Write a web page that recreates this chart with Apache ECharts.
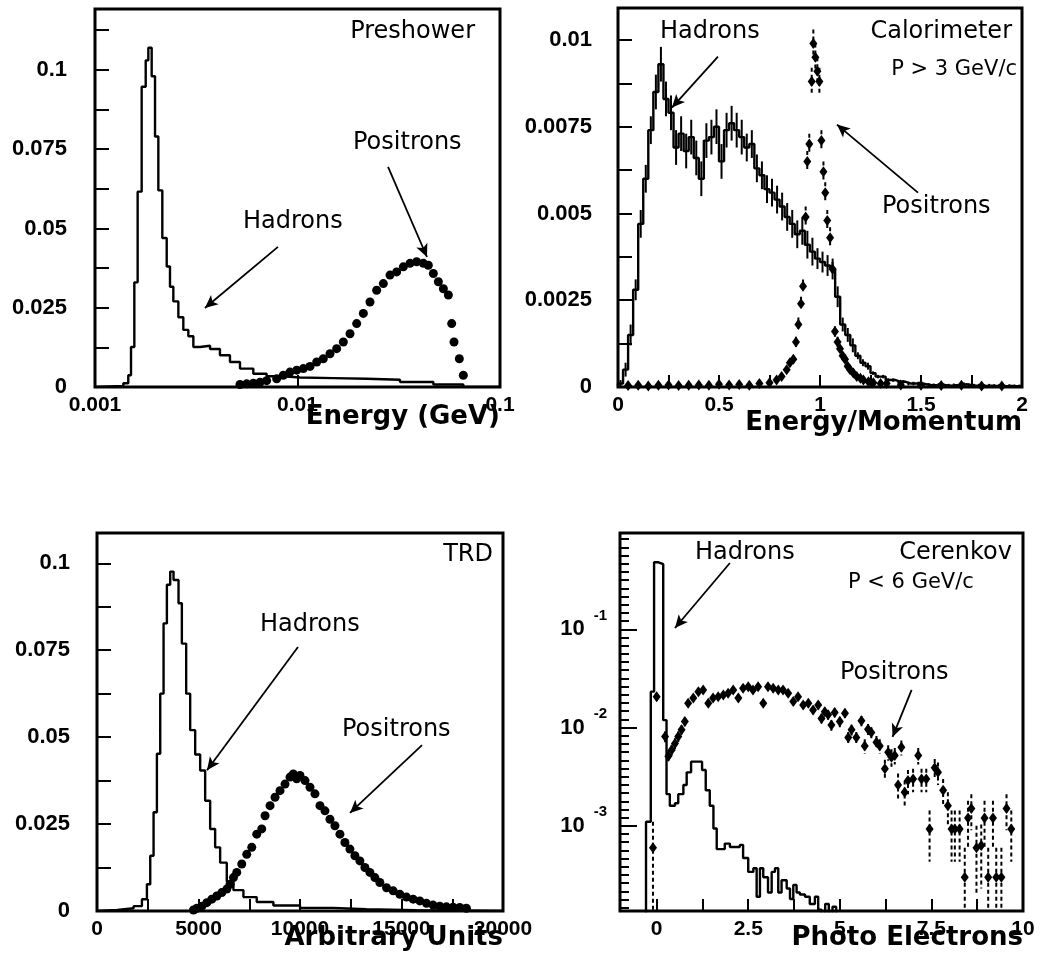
<!DOCTYPE html>
<html>
<head>
<meta charset="utf-8">
<script src="https://cdn.jsdelivr.net/npm/echarts@6/dist/echarts.min.js"></script>
<style>html,body{margin:0;padding:0;background:#fff}#c{width:1049px;height:968px}</style>
</head>
<body>
<div id="c"></div>
<script>
// ================= DATA =================
// Panel 1 : Preshower (log x)
const preHadEdges = [0.001,0.00138,0.00146,0.001506,0.001564,0.001624,0.0017,0.00178,0.001834,0.001905,0.001979,0.002055,0.00215,0.00226,0.002346,0.002437,0.00258,0.00273,0.00289,0.00306,0.0033,0.0037,0.00414,0.00464,0.0052,0.00605,0.00704,0.00851,0.01029,0.01503,0.02196,0.03208,0.04687,0.0659,0.1];
const preHadVals = [0.0003,0.0012,0.0037,0.0126,0.033,0.0616,0.0947,0.103,0.107,0.098,0.079,0.062,0.047,0.038,0.0316,0.027,0.022,0.018,0.016,0.0126,0.013,0.012,0.010,0.0079,0.0058,0.0042,0.0034,0.003,0.0028,0.0026,0.0023,0.0016,0.0008,0];
const prePosX = [0.0052,0.00561,0.00605,0.00653,0.00704,0.00789,0.00851,0.00918,0.00991,0.01069,0.01153,0.01244,0.01341,0.01447,0.01561,0.01684,0.01817,0.0196,0.02114,0.0228,0.0246,0.02654,0.02863,0.03089,0.03332,0.03594,0.03877,0.04183,0.04426,0.04687,0.04962,0.05252,0.0556,0.05773,0.05928,0.06298,0.0659];
const prePosY = [0.0008,0.001,0.0012,0.0015,0.002,0.0026,0.0037,0.0047,0.0053,0.0058,0.0065,0.0079,0.0089,0.0105,0.0121,0.0142,0.0168,0.02,0.0232,0.0268,0.0305,0.0326,0.0353,0.0363,0.0379,0.039,0.0395,0.039,0.0384,0.0358,0.0332,0.031,0.029,0.02,0.0142,0.0089,0.0037];
const preXLabelVals = [0.001,0.01,0.1];
const preXLabels = ['0.001','0.01','0.1'];
const preYLabelVals = [0,0.025,0.05,0.075,0.1];
const preYLabels = ['0','0.025','0.05','0.075','0.1'];
const preYTickVals = [0,0.0125,0.025,0.0375,0.05,0.0625,0.075,0.0875,0.1,0.1125];

// Panel 2 : Calorimeter
const calBinStart = 0, calBinWidth = 0.025;
const calHadVals = [
0.0001,0.0005,0.0015,0.0028,0.0047,0.0060,0.0074,0.0085,0.0093,0.0083,
0.0079,0.0069,0.0073,0.0068,0.0072,0.0066,0.0060,0.0071,0.0072,0.0075,
0.0065,0.0074,0.0076,0.0074,0.0072,0.0069,0.0070,0.0063,0.0061,0.0057,
0.0056,0.0054,0.0052,0.0049,0.0047,0.0044,0.0045,0.0041,0.0039,0.0037,
0.0036,0.0035,0.0034,0.0026,0.0018,0.0015,0.0012,0.0009,0.0007,0.0006,
0.0004,0.0003,0.0003,0.0002,0.0002,0.00015,0.00015,0.0001,0.0001,0.0001,
0.00008,0.00006,0.00005,0.00006,0.00005,0.00004,0.00005,0.00004,0.00008,0.00005,
0.00004,0.00004,0.00003,0.00004,0.00003,0.00003,0.00002,0.00003,0.00002,0.00002];
const calHadErr = [
0.0001,0.0002,0.0003,0.0003,0.0004,0.0004,0.0004,0.0005,0.0005,0.0005,
0.0005,0.0005,0.0005,0.0005,0.0005,0.0005,0.0005,0.0005,0.0005,0.0005,
0.0005,0.0005,0.0005,0.0005,0.0005,0.0004,0.0004,0.0004,0.0004,0.0004,
0.0004,0.0004,0.0004,0.0004,0.0004,0.0004,0.0004,0.0004,0.0004,0.0003,
0.0003,0.0003,0.0003,0.0003,0.0002,0.0002,0.0002,0.0001,0.0001,0.0001,
0.00005,0.00005,0.00005,0.00005,0.00005,0.00005,0.00005,0.00005,0.00005,0.00005,
0.00005,0.00005,0.00005,0.00005,0.00005,0.00005,0.00005,0.00005,0.00005,0.00005,
0.00005,0.00005,0.00005,0.00005,0.00005,0.00005,0.00005,0.00005,0.00005,0.00005];
const calPosX = [0.05,0.1,0.15,0.2,0.25,0.3,0.35,0.4,0.45,0.5,0.55,0.6,0.65,0.7,0.75,
0.785,0.81,0.835,0.851,0.868,0.881,0.893,0.906,0.916,0.929,
0.937,0.947,0.959,0.967,0.977,0.987,0.997,1.007,1.017,1.026,
1.036,1.05,1.062,1.074,1.087,1.099,1.112,1.124,1.137,1.149,
1.165,1.182,1.2,1.215,1.24,1.264,1.3,1.33,
1.4,1.5,1.6,1.7,1.8,1.9];
const calPosY = [0.00004,0.00005,0.00003,0.00005,0.00006,0.00004,0.00005,0.00006,0.00005,0.00008,0.00006,0.00007,0.00005,0.0001,0.00012,
0.0002,0.0003,0.0005,0.0007,0.0008,0.0013,0.0018,0.0024,0.0029,0.0049,
0.0065,0.007,0.0088,0.0099,0.0095,0.0091,0.0088,0.0071,0.0062,0.0056,
0.0048,0.0043,0.0034,0.0016,0.0013,0.0011,0.0009,0.0008,0.0006,0.0005,
0.0004,0.0003,0.00025,0.0002,0.00015,0.00012,0.0001,0.0001,
0.00006,0.00005,0.00004,0.00005,0.00003,0.00003];
const calPosErr = [0.00003,0.00003,0.00003,0.00003,0.00003,0.00003,0.00003,0.00003,0.00003,0.00003,0.00003,0.00003,0.00003,0.00003,0.00003,
0.0001,0.0001,0.0001,0.0001,0.0001,0.00015,0.0002,0.0002,0.0002,0.0003,
0.0003,0.0003,0.0004,0.0004,0.0004,0.0004,0.0004,0.0003,0.0003,0.0003,
0.0003,0.0003,0.0002,0.00015,0.00015,0.0001,0.0001,0.0001,0.0001,0.0001,
0.0001,0.0001,0.0001,0.0001,0.0001,0.0001,0.0001,0.0001,
0.00003,0.00003,0.00003,0.00003,0.00003,0.00003];
const calXLabelVals = [0,0.5,1,1.5,2];
const calXLabels = ['0','0.5','1','1.5','2'];
const calXTickVals = [0,0.25,0.5,0.75,1,1.25,1.5,1.75,2];
const calYLabelVals = [0,0.0025,0.005,0.0075,0.01];
const calYLabels = ['0','0.0025','0.005','0.0075','0.01'];
const calYTickVals = [0,0.00125,0.0025,0.00375,0.005,0.00625,0.0075,0.00875,0.01];

// Panel 3 : TRD
const trdHadEdges = [0,1000,1803,2213,2459,2623,2787,2951,3115,3279,3443,3607,3770,4016,4180,4393,4590,4836,5082,5328,5574,5820,6066,6393,6721,7213,7869,8689,10000,11639,13279,15738,20000];
const trdHadVals = [0.0003,0.0008,0.0014,0.0034,0.0077,0.0159,0.0284,0.0452,0.0625,0.0827,0.0938,0.0976,0.0952,0.0885,0.0769,0.0625,0.052,0.045,0.0404,0.0317,0.0236,0.0183,0.0139,0.0085,0.006,0.004,0.0026,0.0016,0.0009,0.0005,0.0002,0];
const trdPosX = [4754,4918,5164,5410,5656,5902,6148,6393,6557,6721,6885,7131,7377,7623,7869,8115,8279,8525,8770,9016,9262,9508,9672,9836,10000,10246,10492,10738,10984,11230,11475,11721,11967,12213,12459,12705,12951,13197,13443,13689,13934,14262,14590,14918,15246,15574,15902,16230,16557,16885,17213,17541,17869,18197];
const trdPosY = [0.0003,0.0008,0.0014,0.0024,0.0034,0.0043,0.0053,0.0063,0.0077,0.0096,
0.0111,0.0135,0.0163,0.0183,0.0221,0.0236,0.0274,0.0303,0.0327,0.0346,
0.0365,0.0385,0.0394,0.038,0.039,0.0375,0.0356,0.0337,0.0303,0.0288,
0.0264,0.0245,0.0221,0.0197,0.0178,0.0159,0.0144,0.0125,0.0111,0.0096,
0.0082,0.0067,0.0058,0.0048,0.004,0.0034,0.0029,0.0022,0.0017,0.0014,
0.0012,0.0011,0.001,0.0008];
const trdXLabelVals = [0,5000,10000,15000,20000];
const trdXLabels = ['0','5000','10000','15000','20000'];
const trdXTickVals = [0,2500,5000,7500,10000,12500,15000,17500,20000];

// Panel 4 : Cerenkov (log y)
const cerHadEdges = [-0.29,-0.16,-0.07,0.05,0.18,0.27,0.36,0.5,0.59,0.73,0.82,0.94,1.24,1.34,1.45,1.55,1.64,1.86,2.0,2.27,2.36,2.5,2.64,2.73,2.82,2.91,3.04,3.14,3.23,3.32,3.41,3.55,3.64,3.73,3.82,3.91,4.05,4.18,4.32,4.41,4.5,4.6,4.7,4.8,4.9];
const cerHadVals = [0.0011,0.0232,0.48,0.46,0.0119,0.0021,0.0016,0.0017,0.0021,0.0026,0.0035,0.0045,0.0037,0.0023,0.0016,0.00094,0.00058,0.00066,0.00061,0.00064,0.00047,0.00034,0.00037,0.00019,0.00037,0.0003,0.00021,0.00034,0.00037,0.00021,0.00028,0.00023,0.00018,0.00025,0.00021,0.0002,0.00019,0.00016,0.00019,0.00014,0.0001,0.00016,0.0001,0.00015];
const cerPosX = [-0.1,0.0,0.23,0.32,0.41,0.5,0.59,0.68,0.77,0.86,
1.0,1.14,1.27,1.41,1.54,1.68,1.82,1.95,2.09,2.23,
2.36,2.5,2.63,2.77,2.91,3.04,3.18,3.32,3.45,3.59,
3.73,3.86,4.0,4.14,4.27,4.41,4.5,4.59,4.68,4.77,
4.86,5.0,5.14,5.23,5.32,5.45,5.59,5.68,5.77,5.86,
6.0,6.09,6.23,6.32,6.41,6.5,6.59,6.68,6.77,6.86,
7.0,7.14,7.23,7.36,7.45,7.59,7.68,7.82,7.95,8.05,
8.14,8.27,8.41,8.5,8.59,8.73,8.86,8.95,9.05,9.18,
9.27,9.41,9.55,9.68];
const cerPosY = [0.0006,0.0206,0.0081,0.0051,0.0059,0.0069,0.0081,0.0095,0.0115,0.0177,
0.020,0.0232,0.0241,0.0177,0.020,0.0206,0.0214,0.0223,0.0241,0.020,
0.0251,0.026,0.0241,0.026,0.0177,0.026,0.0251,0.0241,0.0241,0.0223,
0.0184,0.0206,0.017,0.0177,0.0151,0.017,0.0124,0.0145,0.0135,0.0106,
0.0142,0.0115,0.014,0.0079,0.0095,0.0079,0.0117,0.0065,0.0096,0.0089,
0.0071,0.0065,0.0038,0.0056,0.005,0.0052,0.0026,0.0063,0.0022,0.0029,
0.003,0.0052,0.003,0.003,0.00093,0.0039,0.0035,0.0023,0.0016,0.00093,
0.00093,0.00093,0.0003,0.0012,0.0015,0.0006,0.00063,0.0012,0.0003,0.0012,
0.0003,0.0003,0.0015,0.00093];
const cerPosErr = [0.0005,0.002,0.001,0.0008,0.0008,0.0009,0.001,0.001,0.0012,0.0015,
0.0015,0.0017,0.0017,0.0015,0.0016,0.0016,0.0016,0.0017,0.0017,0.0016,
0.0018,0.0018,0.0017,0.0018,0.0015,0.0018,0.0018,0.0017,0.0017,0.0017,
0.0016,0.0017,0.0015,0.0016,0.0015,0.0016,0.0014,0.0015,0.0015,0.0013,
0.0015,0.0014,0.0015,0.0011,0.0012,0.0011,0.0014,0.0011,0.0013,0.0012,
0.0011,0.0011,0.0009,0.001,0.001,0.001,0.0008,0.0011,0.0007,0.0008,
0.0008,0.001,0.0008,0.0008,0.0005,0.0009,0.0009,0.0007,0.0006,0.0005,
0.0005,0.0005,0.0003,0.0006,0.0006,0.0004,0.0004,0.0006,0.0003,0.0006,
0.0003,0.0003,0.0006,0.0005];
const cerXLabelVals = [0,2.5,5,7.5,10];
const cerXLabels = ['0','2.5','5','7.5','10'];
const cerXTickVals = [0,1.25,2.5,3.75,5,6.25,7.5,8.75,10];
const cerYLabelVals = [0.001,0.01,0.1];
const cerYLabelExp = ['-3','-2','-1'];

// ================= HELPERS =================
const AX_FONT = 'Liberation Sans';
const TITLE_FONT = 'DejaVu Sans';
const ANN_FONT = 'DejaVu Sans';
const cerYMin = 1.36e-4, cerYMax = 0.954;
const LW = 2.4;

function stepData(edges, vals, floor) {
  const d = [[edges[0], floor]];
  for (let i = 0; i < vals.length; i++) d.push([edges[i], vals[i]]);
  d.push([edges[vals.length], vals[vals.length - 1]]);
  d.push([edges[vals.length], floor]);
  return d;
}
function zip(x, y, e) { return x.map((v, i) => e ? [v, y[i], e[i]] : [v, y[i]]); }
function lookup(vals, labs) {
  return function (v) {
    for (let i = 0; i < vals.length; i++) {
      const t = vals[i];
      if (Math.abs(t - v) <= 1e-6 * Math.max(Math.abs(t), 1e-9)) return labs[i];
    }
    return '';
  };
}
function axisLabelStyle(size, margin) {
  return { color: '#000', fontFamily: AX_FONT, fontWeight: 'bold', fontSize: size, margin: margin };
}
const lineSt = { color: '#000', width: 2 };
function xAx(gi, type, min, max, labVals, labs, tickVals, extra) {
  return Object.assign({
    gridIndex: gi, type: type, min: min, max: max, position: 'bottom',
    axisLine: { show: true, onZero: false, lineStyle: lineSt },
    axisTick: { show: true, inside: true, length: 12, customValues: tickVals, lineStyle: lineSt },
    axisLabel: Object.assign(axisLabelStyle(21, 8), { customValues: labVals, formatter: lookup(labVals, labs) }),
    splitLine: { show: false }, minorTick: { show: false }
  }, extra || {});
}
function yAx(gi, type, min, max, labVals, labs, tickVals, margin) {
  return {
    gridIndex: gi, type: type, min: min, max: max, position: 'left',
    axisLine: { show: true, onZero: false, lineStyle: lineSt },
    axisTick: { show: true, inside: true, length: 14, customValues: tickVals, lineStyle: lineSt },
    axisLabel: Object.assign(axisLabelStyle(22, margin), { customValues: labVals, formatter: lookup(labVals, labs) }),
    splitLine: { show: false }
  };
}
function errSeries(xi, yi, data, clampMin, dashed) {
  return {
    type: 'custom', xAxisIndex: xi, yAxisIndex: yi, data: data, silent: true, z: 3,
    renderItem: function (params, api) {
      const x = api.value(0), y = api.value(1), e = api.value(2);
      const hi = api.coord([x, y + e]);
      const lo = api.coord([x, Math.max(y - e, clampMin)]);
      return {
        type: 'line',
        shape: { x1: hi[0], y1: hi[1], x2: lo[0], y2: lo[1] },
        style: { stroke: '#000', lineWidth: 2, lineDash: dashed ? [4, 3] : null }
      };
    }
  };
}
function arrows(list) {
  return {
    silent: true, symbol: ['none', 'arrow'], symbolSize: [9, 13],
    lineStyle: { color: '#000', width: 1.8, type: 'solid', opacity: 1 },
    label: { show: false },
    data: list.map(a => [{ coord: a[0] }, { coord: a[1] }])
  };
}
function txt(x, y, text, size, align, font, weight) {
  return {
    type: 'text', x: x, y: y, silent: true, z: 50,
    style: {
      text: text, fill: '#000', font: (weight || 'normal') + ' ' + size + 'px "' + (font || ANN_FONT) + '"',
      align: align, textAlign: align, verticalAlign: 'middle', textVerticalAlign: 'middle'
    }
  };
}
function dots(xi, yi, data, symbol, size) {
  return {
    type: 'scatter', xAxisIndex: xi, yAxisIndex: yi, symbol: symbol, symbolSize: size,
    itemStyle: { color: '#000', opacity: 1 }, data: data, z: 4
  };
}
function hist(xi, yi, data, ml) {
  return {
    type: 'line', xAxisIndex: xi, yAxisIndex: yi, step: 'end', symbol: 'none',
    data: data, lineStyle: { color: '#000', width: LW }, z: 2, markLine: ml
  };
}

// histogram edges for calorimeter (uniform binning)
const calHadEdges = [];
for (let i = 0; i <= calHadVals.length; i++) calHadEdges.push(+(calBinStart + i * calBinWidth).toFixed(4));
const calHadCentres = calHadVals.map((v, i) => (calHadEdges[i] + calHadEdges[i + 1]) / 2);

// minor ticks for log axis of Cerenkov panel
const cerYMinorTicks = [];
for (let d = -4; d < 0; d++) for (let k = 1; k < 12; k++) {
  const v = Math.pow(10, d + k / 12);
  if (v > cerYMin && v < cerYMax) cerYMinorTicks.push(v);
}

// ================= CHART =================
const chart = echarts.init(document.getElementById('c'), null, { renderer: 'canvas' });
const gridBase = { show: true, borderColor: '#000', borderWidth: 3, backgroundColor: 'transparent', containLabel: false };

const option = {
  animation: false,
  backgroundColor: '#fff',
  grid: [
    Object.assign({ left: 95, top: 9, width: 405, height: 378 }, gridBase),
    Object.assign({ left: 618, top: 8, width: 404, height: 379 }, gridBase),
    Object.assign({ left: 97, top: 533, width: 406, height: 378 }, gridBase),
    Object.assign({ left: 620, top: 533, width: 403, height: 378 }, gridBase)
  ],
  xAxis: [
    xAx(0, 'log', 0.001, 0.1, preXLabelVals, preXLabels, preXLabelVals, { logBase: 10 }),
    xAx(1, 'value', 0, 2, calXLabelVals, calXLabels, calXTickVals),
    xAx(2, 'value', 0, 20000, trdXLabelVals, trdXLabels, trdXTickVals),
    xAx(3, 'value', -1, 10, cerXLabelVals, cerXLabels, cerXTickVals)
  ],
  yAxis: [
    yAx(0, 'value', 0, 0.1192, preYLabelVals, preYLabels, preYTickVals, 28),
    yAx(1, 'value', 0, 0.01092, calYLabelVals, calYLabels, calYTickVals, 26),
    yAx(2, 'value', 0, 0.1087, preYLabelVals, preYLabels, preYTickVals, 27),
    {
      gridIndex: 3, type: 'log', logBase: 10, min: cerYMin, max: cerYMax, position: 'left',
      axisLine: { show: true, onZero: false, lineStyle: lineSt },
      axisTick: { show: true, inside: true, length: 17, customValues: cerYLabelVals, lineStyle: lineSt },
      axisLabel: {
        customValues: cerYLabelVals, margin: 13,
        formatter: function (v) { const e = lookup(cerYLabelVals, cerYLabelExp)(v); return e ? '{b|10}{s|' + e + '}' : ''; },
        rich: {
          b: { fontFamily: AX_FONT, fontWeight: 'bold', fontSize: 22, lineHeight: 42, color: '#000' },
          s: { fontFamily: AX_FONT, fontWeight: 'bold', fontSize: 15, lineHeight: 15, verticalAlign: 'top', padding: [0, 0, 0, 9], color: '#000' }
        }
      },
      splitLine: { show: false }
    },
    {
      gridIndex: 3, type: 'log', logBase: 10, min: cerYMin, max: cerYMax, position: 'left', offset: 0,
      axisLine: { show: false, onZero: false },
      axisTick: { show: true, inside: true, length: 9, customValues: cerYMinorTicks, lineStyle: lineSt },
      axisLabel: { show: false }, splitLine: { show: false }
    }
  ],
  series: [
    // ---- Preshower
    hist(0, 0, stepData(preHadEdges, preHadVals, 0),
      arrows([[[0.00801, 0.0442], [0.00349, 0.0249]], [[0.028, 0.0694], [0.0436, 0.041]]])),
    dots(0, 0, zip(prePosX, prePosY), 'circle', 9),
    // ---- Calorimeter
    hist(1, 1, stepData(calHadEdges, calHadVals, 0),
      arrows([[[0.495, 0.00952], [0.267, 0.00805]], [[1.485, 0.0056], [1.084, 0.00756]]])),
    errSeries(1, 1, zip(calHadCentres, calHadVals, calHadErr), 0, false),
    errSeries(1, 1, zip(calPosX, calPosY, calPosErr), 0, true),
    dots(1, 1, zip(calPosX, calPosY), 'diamond', [8, 11]),
    // ---- TRD
    hist(2, 2, stepData(trdHadEdges, trdHadVals, 0),
      arrows([[[9901, 0.0759], [5419, 0.0405]], [[16010, 0.0477], [12463, 0.0282]]])),
    dots(2, 2, zip(trdPosX, trdPosY), 'circle', 9),
    // ---- Cerenkov
    hist(3, 3, stepData(cerHadEdges, cerHadVals, 1e-5),
      arrows([[[2.0, 0.4725], [0.5, 0.103]], [[6.96, 0.0242], [6.44, 0.00803]]])),
    errSeries(3, 3, zip(cerPosX, cerPosY, cerPosErr), cerYMin, true),
    dots(3, 3, zip(cerPosX, cerPosY), 'diamond', [8, 11])
  ],
  graphic: [
    txt(475, 32, 'Preshower', 24, 'right'),
    txt(353, 143, 'Positrons', 24, 'left'),
    txt(243, 222, 'Hadrons', 24, 'left'),
    txt(660, 32, 'Hadrons', 24, 'left'),
    txt(1012, 32, 'Calorimeter', 24, 'right'),
    txt(1017, 70, 'P > 3 GeV/c', 21, 'right'),
    txt(882, 207, 'Positrons', 24, 'left'),
    txt(493, 555, 'TRD', 24, 'right'),
    txt(260, 625, 'Hadrons', 24, 'left'),
    txt(342, 730, 'Positrons', 24, 'left'),
    txt(695, 553, 'Hadrons', 24, 'left'),
    txt(1012, 553, 'Cerenkov', 24, 'right'),
    txt(848, 583, 'P < 6 GeV/c', 21, 'left'),
    txt(840, 673, 'Positrons', 24, 'left'),
    txt(500, 417, 'Energy (GeV)', 26, 'right', TITLE_FONT, 'bold'),
    txt(1022, 423, 'Energy/Momentum', 26, 'right', TITLE_FONT, 'bold'),
    txt(503, 938, 'Arbitrary Units', 26, 'right', TITLE_FONT, 'bold'),
    txt(1023, 938, 'Photo Electrons', 26, 'right', TITLE_FONT, 'bold')
  ]
};
chart.setOption(option);
</script>
</body>
</html>
